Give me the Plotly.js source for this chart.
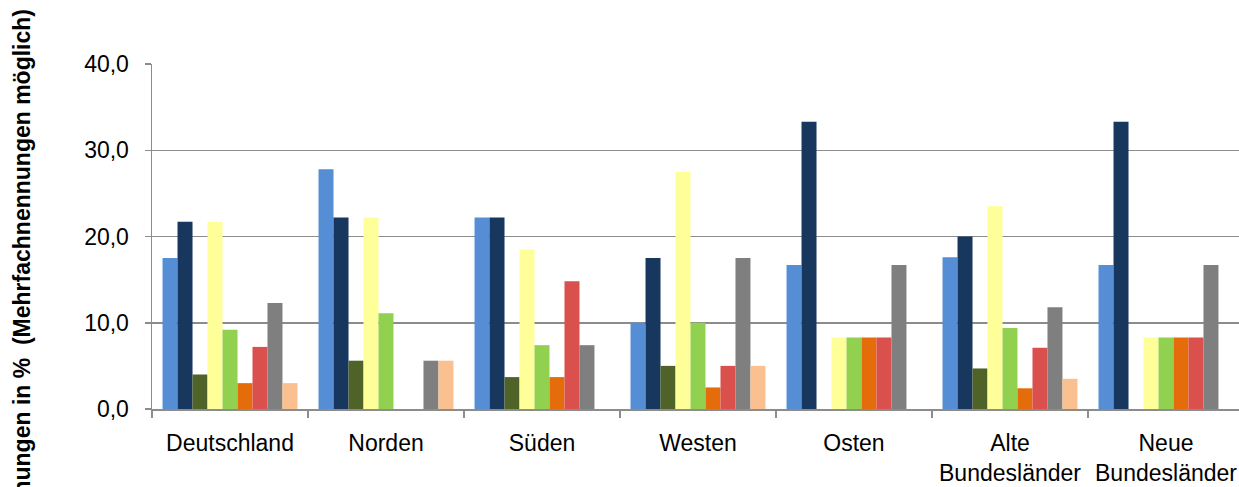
<!DOCTYPE html>
<html>
<head>
<meta charset="utf-8">
<script src="https://cdn.plot.ly/plotly-3.0.1.min.js"></script>
<style>html,body{margin:0;padding:0;background:#fff;}#chart{width:1239px;height:487px;}</style>
</head>
<body>
<div id="chart"></div>
<script>
const categories = ["Deutschland", "Norden", "Süden", "Westen", "Osten", "Alte<br>Bundesländer", "Neue<br>Bundesländer"];
const series1 = [17.5, 27.8, 22.2, 10.0, 16.7, 17.6, 16.7];
const series2 = [21.7, 22.2, 22.2, 17.5, 33.3, 20.0, 33.3];
const series3 = [4.0, 5.6, 3.7, 5.0, 0, 4.7, 0];
const series4 = [21.7, 22.2, 18.5, 27.5, 8.3, 23.5, 8.3];
const series5 = [9.2, 11.1, 7.4, 10.0, 8.3, 9.4, 8.3];
const series6 = [3.0, 0, 3.7, 2.5, 8.3, 2.4, 8.3];
const series7 = [7.2, 0, 14.8, 5.0, 8.3, 7.1, 8.3];
const series8 = [12.3, 5.6, 7.4, 17.5, 16.7, 11.8, 16.7];
const series9 = [3.0, 5.6, 0, 5.0, 0, 3.5, 0];
const seriesNames = ["Reihe 1", "Reihe 2", "Reihe 3", "Reihe 4", "Reihe 5", "Reihe 6", "Reihe 7", "Reihe 8", "Reihe 9"];
const yTitle = "Nennungen in %&nbsp;&nbsp;(Mehrfachnennungen möglich)";

const colors = ["#558ED5", "#17375E", "#4F6228", "#FFFF99", "#92D050", "#E46C0A", "#D9504D", "#7F7F7F", "#FAC090"];
const allSeries = [series1, series2, series3, series4, series5, series6, series7, series8, series9];

const traces = allSeries.map((vals, i) => ({
  type: "bar",
  x: categories,
  y: vals,
  name: seriesNames[i],
  marker: {color: colors[i], line: {width: 0}},
  hoverinfo: "x+y"
}));

const font = {family: "Liberation Sans, Arial, sans-serif", size: 23, color: "#000"};

const layout = {
  width: 1239,
  height: 487,
  margin: {l: 152, r: 0, t: 64, b: 78, pad: 0},
  paper_bgcolor: "#fff",
  plot_bgcolor: "#fff",
  barmode: "group",
  bargap: 0.135,
  bargroupgap: 0,
  showlegend: false,
  separators: ",.",
  font: font,
  xaxis: {
    type: "category",
    range: [-0.5, 6.468],
    showline: true,
    linecolor: "#8C8C8C",
    linewidth: 1.5,
    ticks: "outside",
    tickson: "boundaries",
    ticklen: 7,
    tickwidth: 1.5,
    tickcolor: "#8C8C8C",
    showgrid: false,
    tickfont: font,
    ticklabelstandoff: 13,
    automargin: false
  },
  yaxis: {
    range: [0, 40],
    tickvals: [0, 10, 20, 30, 40],
    tickformat: ".1f",
    showline: true,
    linecolor: "#8C8C8C",
    linewidth: 1.5,
    ticks: "outside",
    ticklen: 6,
    tickwidth: 1.5,
    tickcolor: "#8C8C8C",
    showgrid: true,
    gridcolor: "#8C8C8C",
    gridwidth: 1.5,
    zeroline: false,
    tickfont: font,
    ticklabelstandoff: 11,
    automargin: false
  },
  annotations: [{
    text: "<b>" + yTitle + "</b>",
    xref: "paper", yref: "paper",
    x: (22 - 152) / 1087,
    y: (409 - 274) / 345,
    xanchor: "center", yanchor: "middle",
    textangle: -90,
    showarrow: false,
    font: {family: "Liberation Sans, Arial, sans-serif", size: 23, color: "#000"}
  }]
};

Plotly.newPlot("chart", traces, layout, {displayModeBar: false, staticPlot: true});
</script>
</body>
</html>
